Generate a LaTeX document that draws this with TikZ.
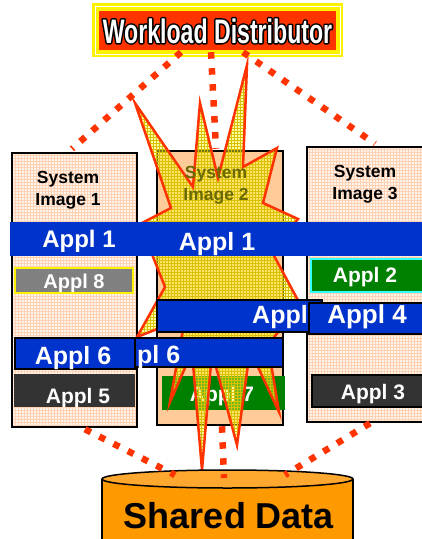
\documentclass[tikz,border=0pt]{standalone}
\usepackage{fontspec}
\setmainfont{Liberation Sans}
\newfontfamily\wdfont[FakeStretch=0.68]{Liberation Sans}
\usetikzlibrary{shapes.geometric,patterns}
\definecolor{wdred}{HTML}{FF3300}
\definecolor{sysbg}{HTML}{FFF4EC}
\definecolor{sysgrid}{HTML}{FFD2B4}
\definecolor{midbg}{HTML}{FFCC99}
\definecolor{midtext}{HTML}{6A6A00}
\definecolor{boomyellow}{HTML}{FFFF33}
\definecolor{boomgrid}{HTML}{D9C000}
\definecolor{applblue}{HTML}{0033CC}
\definecolor{applgreen}{HTML}{008000}
\definecolor{applgray}{HTML}{808080}
\definecolor{appldark}{HTML}{333333}
\definecolor{applcyan}{HTML}{33FFFF}
\definecolor{cylbody}{HTML}{FF9900}
\definecolor{cyltop}{HTML}{FFA830}
% outlined letters: black stroke below, white letters on top
\newcommand\outlined[1]{\rlap{\textcolor{black}{\special{pdf:literal direct 1 Tr 3 w 1 j}#1\special{pdf:literal direct 0 Tr}}}#1}
\begin{document}
\begin{tikzpicture}[
    x=1pt, y=-1pt,
    sysbox/.style = {draw, line width=2.5pt, inner sep=0pt,
      preaction={fill=sysbg}, pattern=grid, pattern color=sysgrid},
    midbox/.style = {draw, line width=2.5pt, inner sep=0pt, fill=midbg},
    applbox/.style = {inner sep=0pt, line width=1.5pt},
    bluebar/.style = {applbox, fill=applblue},
    appltext/.style = {text=white, anchor=base, inner sep=0pt,
      font=\bfseries\fontsize{#1}{#1}\selectfont},
    appltext/.default = 21,
    systext/.style = {anchor=base, align=center, inner sep=0pt,
      font=\bfseries\fontsize{17.5}{22}\selectfont},
    feed/.style = {draw=wdred, line width=6.5pt, dash pattern=on 6.5pt off 9.5pt},
    boom/.style = {draw=wdred, line width=2.5pt, line join=miter,
      preaction={fill=boomyellow, fill opacity=.45},
      preaction={pattern=grid, pattern color=boomgrid, fill opacity=.6}}
  ]
  \useasboundingbox (0,0) rectangle (422,539);
  \clip (0,0) rectangle (422,539);
  % System images.
  \node[sysbox, minimum width=125pt, minimum height=274pt] (si1) at (74.5,290) {};
  \node[midbox, minimum width=126pt, minimum height=274pt] (si2) at (220,288) {};
  \node[sysbox, minimum width=133pt, minimum height=275pt] (si3) at (373.5,284.5) {};
  \node[systext] (si1t) at (68,205) {System\\Image 1};
  \node[systext] (si3t) at (365,199) {System\\Image 3};
  % Applications in place.
  \node[applbox, fill=applgray, draw=yellow, minimum width=118pt, minimum height=25pt] (a8) at (74,280.5) {};
  \node[appltext=20] (a8t) at (74,288) {Appl 8};
  \node[applbox, fill=applgreen, draw=applcyan, minimum width=112pt, minimum height=33pt] (a2) at (367,275.5) {};
  \node[appltext] (a2t) at (365,282) {Appl 2};
  \node[applbox, fill=appldark, minimum width=121pt, minimum height=33pt] (a5) at (74.5,390.5) {};
  \node[appltext] (a5t) at (78,403) {Appl 5};
  \node[applbox, fill=appldark, draw=black, minimum width=122pt, minimum height=32pt] (a3) at (373,391) {};
  \node[appltext] (a3t) at (373,399) {Appl 3};
  \node[applbox, fill=applgreen, minimum width=123pt, minimum height=34pt] (a7) at (223.5,393) {};
  \node[appltext] (a7t) at (222,401) {Appl 7};
  % Failure of image 2.
  \draw[boom] (135,103) -- (193,187) -- (200,103) -- (218,178) -- (247,65)
    -- (243,167) -- (277,148) -- (263,203) -- (298,219) -- (272,252)
    -- (300,304) -- (268,345) -- (279,412) -- (250,350) -- (237,445)
    -- (212,352) -- (202,470) -- (192,352) -- (170,402) -- (185,318)
    -- (137,337) -- (165,287) -- (140,224) -- (171,208) -- cycle;
  \node[systext, text=midtext] (si2t) at (216,200) {System\\Image 2};
  % Moved applications.
  \node[bluebar, minimum width=430pt, minimum height=34pt] (a1) at (225,238.5) {};
  \node[appltext=24] (a1t) at (79,247) {Appl 1};
  \node[appltext=25] (a1m) at (217,250) {Appl 1};
  \node[bluebar, draw=black, minimum width=165pt, minimum height=32pt] (a4m) at (239.5,316) {};
  \node[appltext=25, anchor=base west] (a4mt) at (252,323) {Appl};
  \node[bluebar, draw=black, minimum width=116pt, minimum height=31pt] (a4) at (367,318.5) {};
  \node[appltext=26] (a4t) at (367,323) {Appl 4};
  \node[bluebar, draw=black, minimum width=148pt, minimum height=29pt] (a6m) at (209,352.5) {};
  \node[appltext=25, anchor=base west] (a6mt) at (137,363) {pl 6};
  \node[bluebar, draw=black, minimum width=120pt, minimum height=31pt] (a6) at (75,353.5) {};
  \node[appltext=25] (a6t) at (73,364) {Appl 6};
  % Shared data.
  \fill[cylbody] (102,479) rectangle (353,545);
  \draw[line width=1.5pt] (102,479) -- (102,545) (353,479) -- (353,545);
  \node[ellipse, draw, line width=1.5pt, fill=cyltop, inner sep=0pt,
    minimum width=251pt, minimum height=18pt] (sdtop) at (227.5,479) {};
  \node[anchor=base, inner sep=0pt, font=\bfseries\fontsize{36}{36}\selectfont] (sd) at (229,528) {Shared Data};
  % Workload distributor.
  \node[fill=yellow, inner sep=0pt, minimum width=251pt, minimum height=54pt] (wd) at (217.5,30) {};
  \node[draw=white, line width=.8pt, inner sep=0pt, minimum width=245pt, minimum height=48pt] (wdline) at (217.5,30) {};
  \node[fill=wdred, inner sep=0pt, minimum width=237pt, minimum height=39pt] (wdin) at (217.5,30.5) {};
  \node[anchor=base, inner sep=0pt, text=white, font=\wdfont\bfseries\fontsize{34}{34}\selectfont] (wdt) at (217.5,43) {\outlined{Workload Distributor}};
  % Connections.
  \draw[feed] ([xshift=-36.5pt,yshift=5pt]wd.south) -- ([xshift=-2.5pt,yshift=3pt]si1.north);
  \draw[feed] ([xshift=-6.5pt,yshift=5pt]wd.south) -- ([xshift=-4pt,yshift=1pt]si2.north);
  \draw[feed] ([xshift=25.5pt,yshift=5pt]wd.south) -- ([xshift=1.5pt,yshift=2pt]si3.north);
  \draw[feed] ([xshift=10.5pt,yshift=-1pt]si1.south) -- ([xshift=-52.5pt,yshift=4pt]sdtop.center);
  \draw[feed] ([xshift=2pt]si2.south) -- ([xshift=-3.5pt,yshift=1pt]sdtop.center);
  \draw[feed] ([xshift=-3.5pt]si3.south) -- ([xshift=57.5pt,yshift=4pt]sdtop.center);
\end{tikzpicture}
\end{document}
